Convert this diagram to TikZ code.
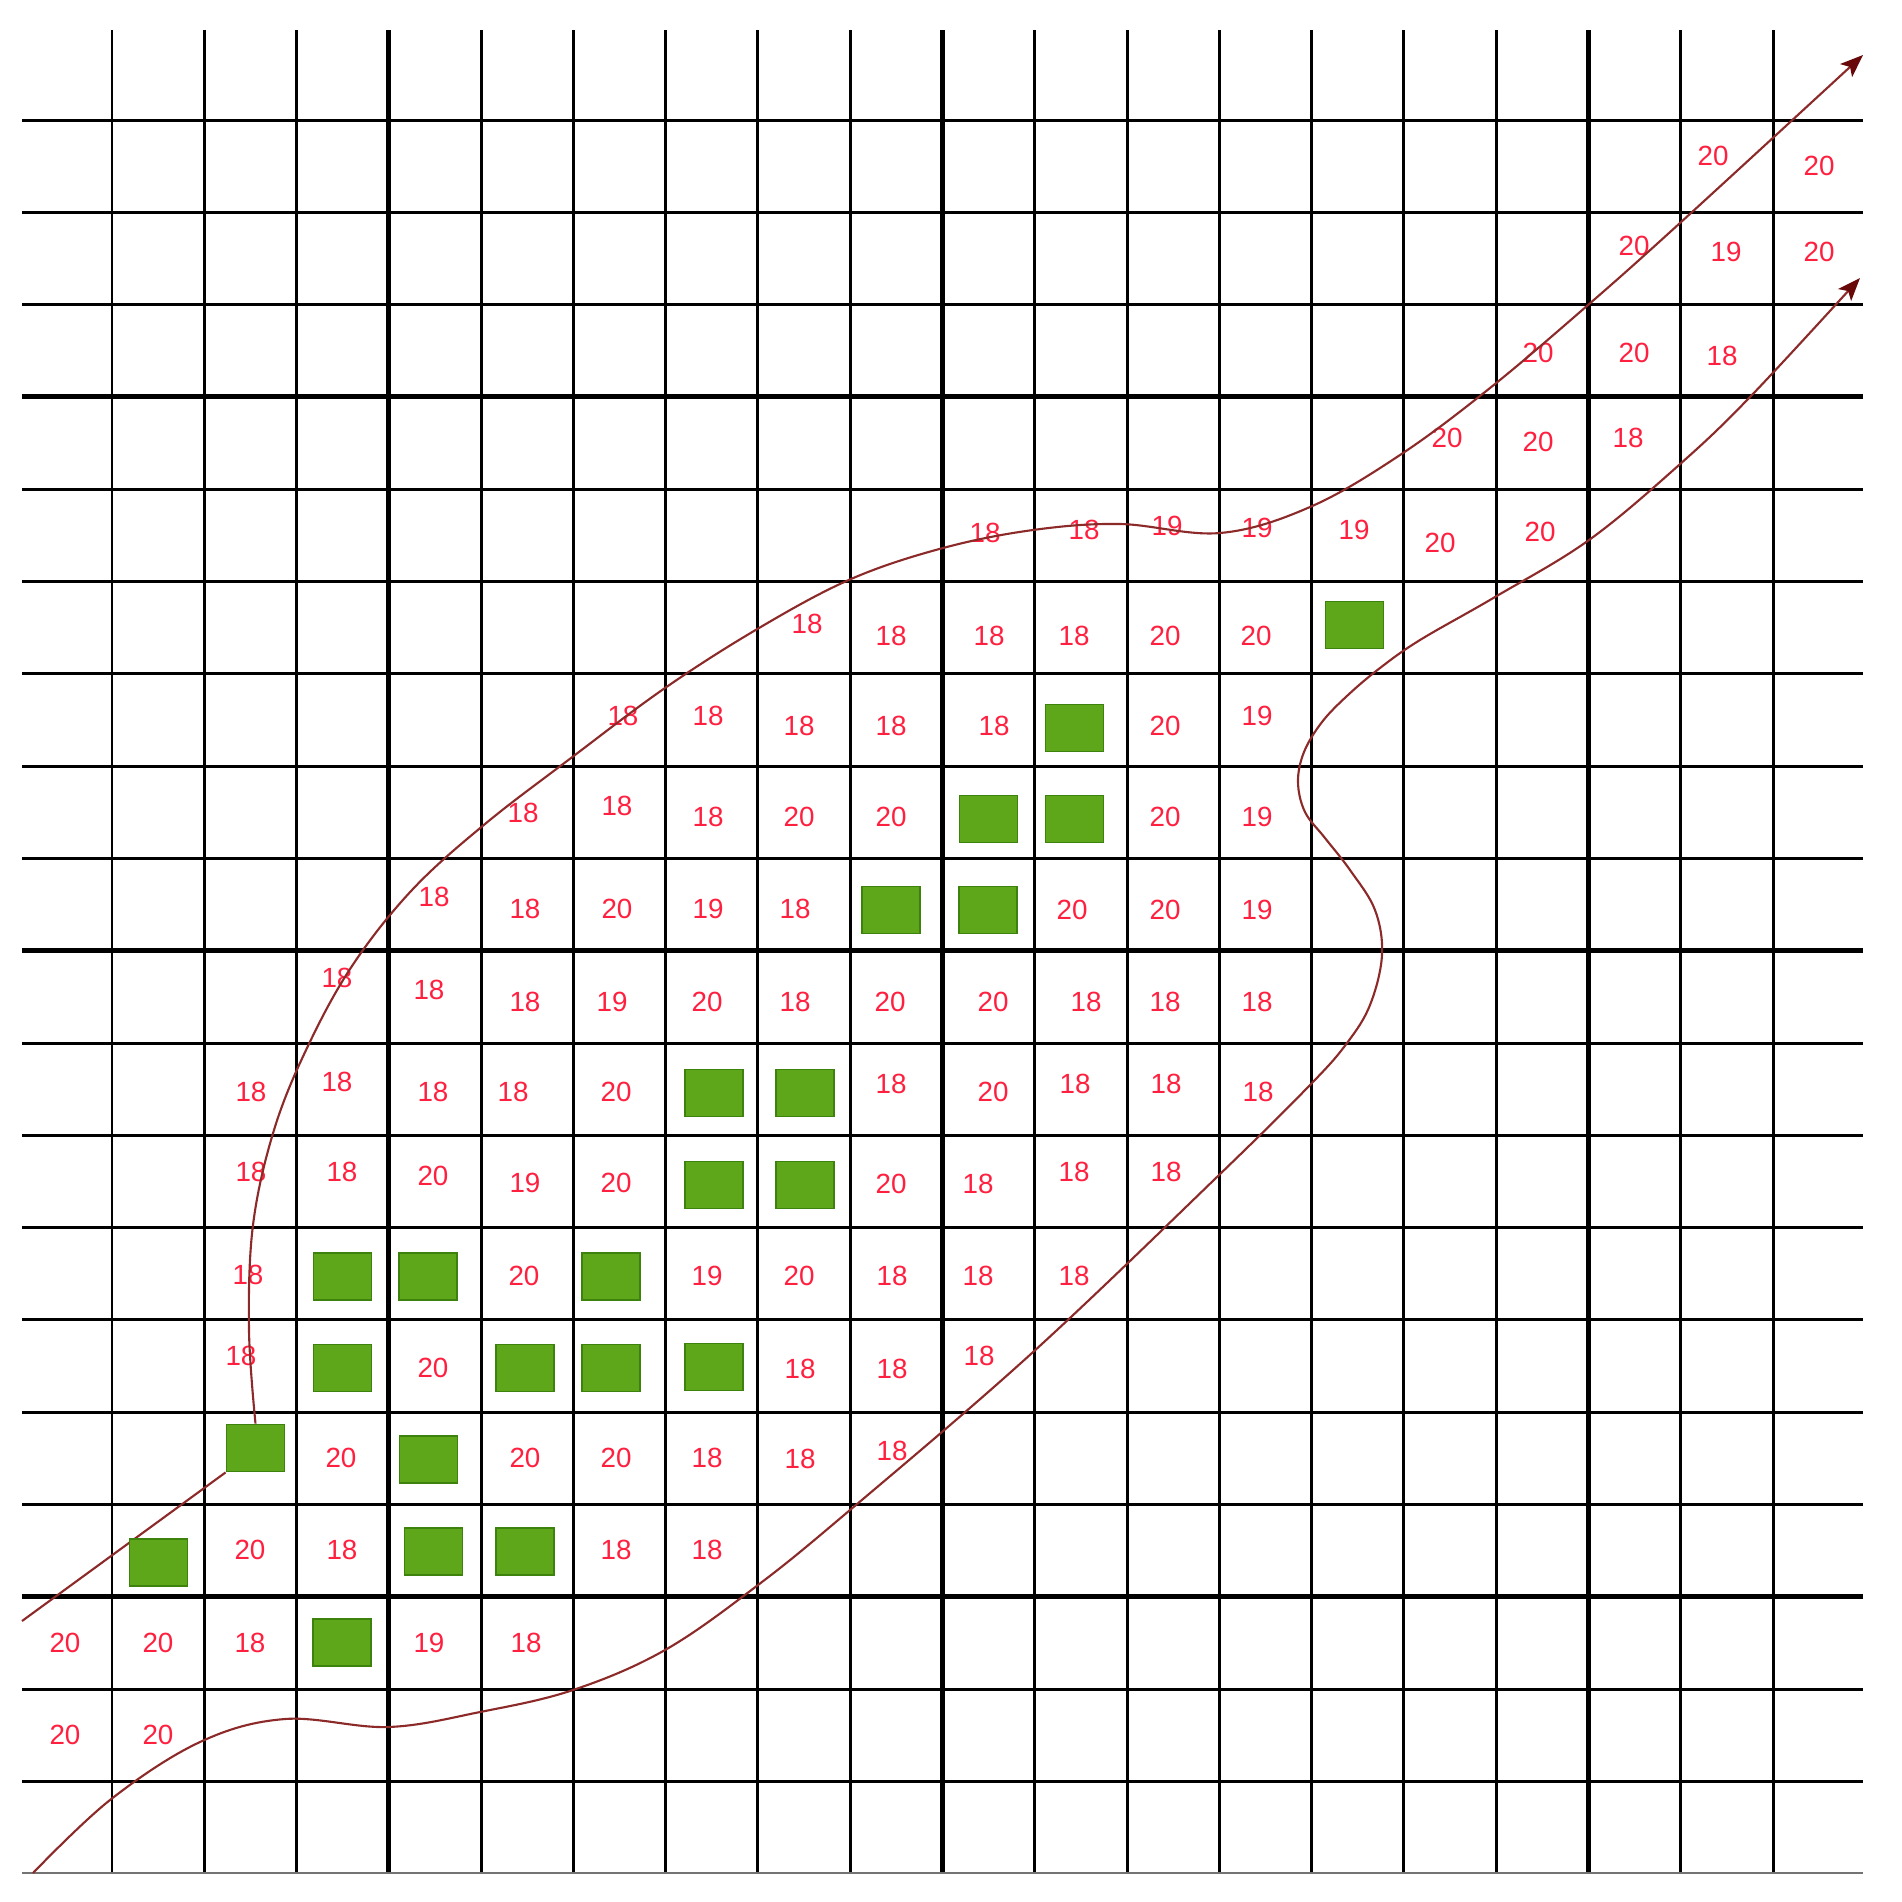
\documentclass[tikz,border=0pt]{standalone}
\usepackage{fontspec}
\setmainfont{Liberation Sans}
\usetikzlibrary{arrows.meta}
\definecolor{numred}{RGB}{255,32,64}
\definecolor{boxgreen}{RGB}{94,166,26}
\definecolor{boxedge}{RGB}{62,130,14}
\definecolor{curvec}{RGB}{140,42,42}
\definecolor{tipc}{RGB}{105,8,8}
\begin{document}
\begin{tikzpicture}[x=0.01cm,y=-0.01cm,
  gridline/.style={line width=0.85pt,black},
  gridthick/.style={line width=1.45pt,black},
  gridbottom/.style={line width=0.6pt,black!55},
  num/.style={text=numred,font=\fontsize{7.9}{9}\selectfont,inner sep=0pt},
  gbox/.style={fill=boxgreen,draw=boxedge,line width=0.5pt,minimum width=0.58cm,minimum height=0.47cm,inner sep=0pt},
  curve/.style={draw=curvec,line width=0.6pt},
  tipend/.style={-{Stealth[length=6.5pt,width=5pt,inset=1.5pt,color=tipc]}}]
\useasboundingbox (0,0) rectangle (1902,1902);
\fill[white] (0,0) rectangle (1902,1902);
% grid
\foreach \i in {0,...,18} {
  \draw[gridline] ({112+92.28*\i},30) -- ({112+92.28*\i},1873);
}
\foreach \i in {3,9,16} {
  \draw[gridthick] ({112+92.28*\i},30) -- ({112+92.28*\i},1873);
}
\foreach \j in {0,...,18} {
  \draw[gridline] (22,{120+92.3*\j}) -- (1863,{120+92.3*\j});
}
\foreach \j in {3,9,16} {
  \draw[gridthick] (22,{120+92.3*\j}) -- (1863,{120+92.3*\j});
}
\draw[gridbottom] (22,1873) -- (1863,1873);
% numbers
\foreach \x/\y/\t [count=\k] in {
 1713/156/20, 1819/166/20,
 1634/246/20, 1726/252/19, 1819/252/20,
 1538/353/20, 1634/353/20, 1722/356/18,
 1447/438/20, 1538/442/20, 1628/438/18,
 985/533/18, 1084/530/18, 1167/526/19, 1257/528/19, 1354/530/19, 1440/543/20, 1540/532/20,
 807/624/18, 891/636/18, 989/636/18, 1074/636/18, 1165/636/20, 1256/636/20,
 623/716/18, 708/716/18, 799/726/18, 891/726/18, 994/726/18, 1165/726/20, 1257/716/19,
 523/813/18, 617/806/18, 708/817/18, 799/817/20, 891/817/20, 1165/817/20, 1257/817/19,
 434/897/18, 525/909/18, 617/909/20, 708/909/19, 795/909/18, 1072/910/20, 1165/910/20, 1257/910/19,
 337/978/18, 429/990/18, 525/1002/18, 612/1002/19, 707/1002/20, 795/1002/18, 890/1002/20, 993/1002/20, 1086/1002/18, 1165/1002/18, 1257/1002/18,
 251/1092/18, 337/1082/18, 433/1092/18, 513/1092/18, 616/1092/20, 891/1084/18, 993/1092/20, 1075/1084/18, 1166/1084/18, 1258/1092/18,
 251/1172/18, 342/1172/18, 433/1176/20, 525/1183/19, 616/1183/20, 891/1184/20, 978/1184/18, 1074/1172/18, 1166/1172/18,
 248/1275/18, 524/1276/20, 707/1276/19, 799/1276/20, 892/1276/18, 978/1276/18, 1074/1276/18,
 241/1356/18, 433/1368/20, 800/1369/18, 892/1369/18, 979/1356/18,
 341/1458/20, 525/1458/20, 616/1458/20, 707/1458/18, 800/1459/18, 892/1451/18,
 250/1550/20, 342/1550/18, 616/1550/18, 707/1550/18,
 65/1643/20, 158/1643/20, 250/1643/18, 429/1643/19, 526/1643/18,
 65/1735/20, 158/1735/20} {
  \node[num] (n\k) at (\x,\y) {\t};
}
% curves
\coordinate (lstart) at (22,1621);
\coordinate (lowstart) at (33,1873);
\coordinate (upend) at (1863,55);
\coordinate (lowend) at (1860,278);
\node[gbox] (b15c2) at (255.5,1448) {};
\draw[curve] (lstart) -- (b15c2.south west);
\draw[curve,tipend] plot[smooth,tension=0.6] coordinates {
 (b15c2.north) (249,1330) (253,1225) (274,1130) (307,1048) (352,966) (412,890)
 (485,824) (571,758) (665,688) (759,628) (851,579) (943,548) (1033,530)
 (1120,524) (1220,533) (1310,507) (1400,455) (1490,388) (1588,305)
 (1680,223) (upend)};
\draw[curve,tipend] plot[smooth,tension=0.6] coordinates {
 (lowstart) (110,1800) (200,1742) (285,1719) (388,1727) (480,1712)
 (573,1690) (665,1650) (758,1585) (850,1510) (1032,1353) (1218,1176) (1311,1084)
 (1347,1043) (1370,1005) (1382,955) (1375,910) (1350,870) (1325,838)
 (1305,812) (1298,782) (1304,752) (1322,722) (1348,695) (1380,668)
 (1420,640) (1495,597) (1589,540) (1679,465) (1750,397) (lowend)};
% boxes
\foreach \x/\y/\nm in {
 1354.5/625/b6c14, 1074.5/728/b7c11, 988.5/819/b8c10, 1074.5/819/b8c11,
 891/910/b9c9, 988/910/b9c10, 714/1093/b11c7, 805/1093/b11c8,
 714/1185/b12c7, 805/1185/b12c8, 342.5/1276.5/b13c3, 428/1276.5/b13c4,
 611/1276.5/b13c6, 342.5/1368/b14c3, 525/1368/b14c5, 611/1368/b14c6,
 714/1367/b14c7, 428.5/1459.5/b15c4, 158.5/1562.5/b16c1,
 433.5/1551.5/b16c4, 525/1551.5/b16c5, 342/1642.5/b17c3} {
  \node[gbox] (\nm) at (\x,\y) {};
}
\node[gbox] (b15c2r) at (255.5,1448) {};
\end{tikzpicture}
\end{document}
